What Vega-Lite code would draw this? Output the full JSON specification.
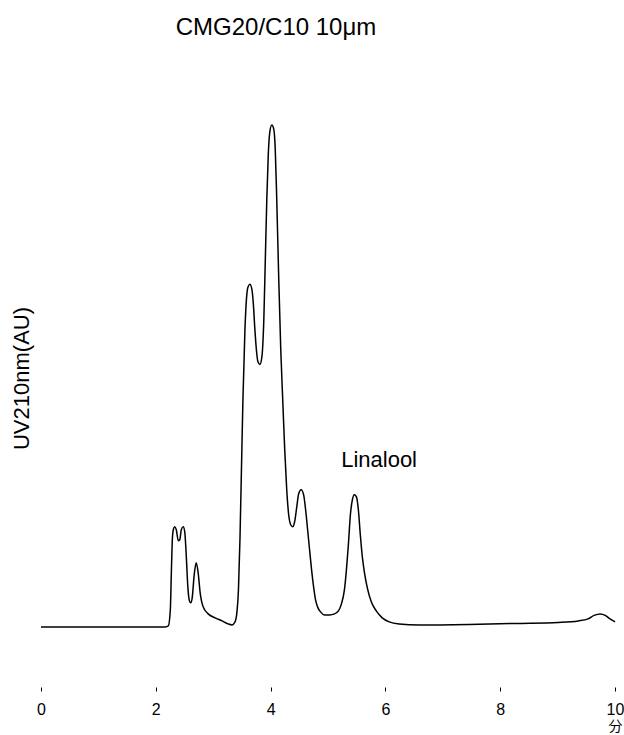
{
  "$schema": "https://vega.github.io/schema/vega-lite/v6.json",
  "width": 574,
  "height": 617,
  "autosize": {"type": "none"},
  "padding": {"left": 41, "top": 70, "right": 9, "bottom": 48},
  "background": "white",
  "config": {"view": {"stroke": null}, "font": "Liberation Sans"},
  "title": {"text": "CMG20/C10 10μm", "fontSize": 24, "fontWeight": "normal", "color": "black", "font": "Liberation Sans", "anchor": "middle", "dx": -52, "offset": 30},
  "datasets": {
    "trace": [
      {"t": 0, "v": 0},
      {"t": 2.166, "v": 0},
      {"t": 2.218, "v": 0.2},
      {"t": 2.253, "v": 3.4},
      {"t": 2.27, "v": 10.4},
      {"t": 2.288, "v": 17.4},
      {"t": 2.305, "v": 19.4},
      {"t": 2.331, "v": 20},
      {"t": 2.357, "v": 19.4},
      {"t": 2.392, "v": 17.2},
      {"t": 2.418, "v": 17.4},
      {"t": 2.444, "v": 19.4},
      {"t": 2.478, "v": 20},
      {"t": 2.504, "v": 19},
      {"t": 2.53, "v": 14.4},
      {"t": 2.556, "v": 8.4},
      {"t": 2.582, "v": 5.4},
      {"t": 2.608, "v": 4.8},
      {"t": 2.634, "v": 5.8},
      {"t": 2.669, "v": 10.4},
      {"t": 2.704, "v": 12.8},
      {"t": 2.738, "v": 10.8},
      {"t": 2.773, "v": 6.8},
      {"t": 2.825, "v": 4},
      {"t": 2.912, "v": 2.6},
      {"t": 3.033, "v": 1.8},
      {"t": 3.154, "v": 1.2},
      {"t": 3.258, "v": 0.6},
      {"t": 3.328, "v": 0.4},
      {"t": 3.38, "v": 1.0},
      {"t": 3.414, "v": 3},
      {"t": 3.44, "v": 7.4},
      {"t": 3.466, "v": 17.4},
      {"t": 3.492, "v": 31.4},
      {"t": 3.518, "v": 45.4},
      {"t": 3.553, "v": 59.4},
      {"t": 3.579, "v": 65.4},
      {"t": 3.605, "v": 67.8},
      {"t": 3.64, "v": 68.4},
      {"t": 3.674, "v": 67.4},
      {"t": 3.7, "v": 64.4},
      {"t": 3.726, "v": 59.4},
      {"t": 3.752, "v": 55.4},
      {"t": 3.778, "v": 53},
      {"t": 3.813, "v": 52.4},
      {"t": 3.847, "v": 53.8},
      {"t": 3.882, "v": 61.4},
      {"t": 3.908, "v": 73.4},
      {"t": 3.934, "v": 85.4},
      {"t": 3.96, "v": 94.4},
      {"t": 3.986, "v": 98.8},
      {"t": 4.021, "v": 100.2},
      {"t": 4.055, "v": 99.4},
      {"t": 4.081, "v": 95.4},
      {"t": 4.107, "v": 85.4},
      {"t": 4.142, "v": 69.4},
      {"t": 4.177, "v": 55.4},
      {"t": 4.211, "v": 45.4},
      {"t": 4.246, "v": 35.4},
      {"t": 4.281, "v": 27.4},
      {"t": 4.315, "v": 22.4},
      {"t": 4.35, "v": 20.4},
      {"t": 4.385, "v": 20},
      {"t": 4.419, "v": 21},
      {"t": 4.454, "v": 23.8},
      {"t": 4.489, "v": 26.6},
      {"t": 4.532, "v": 27.4},
      {"t": 4.575, "v": 26.4},
      {"t": 4.61, "v": 23.4},
      {"t": 4.645, "v": 19.4},
      {"t": 4.679, "v": 15.4},
      {"t": 4.714, "v": 11.4},
      {"t": 4.749, "v": 8},
      {"t": 4.783, "v": 5.4},
      {"t": 4.818, "v": 4},
      {"t": 4.87, "v": 3},
      {"t": 4.939, "v": 2.4},
      {"t": 5.026, "v": 2.4},
      {"t": 5.113, "v": 2.6},
      {"t": 5.182, "v": 3.2},
      {"t": 5.234, "v": 4.6},
      {"t": 5.286, "v": 7.4},
      {"t": 5.321, "v": 11.4},
      {"t": 5.355, "v": 16.4},
      {"t": 5.39, "v": 22.4},
      {"t": 5.425, "v": 25.4},
      {"t": 5.459, "v": 26.4},
      {"t": 5.494, "v": 26},
      {"t": 5.529, "v": 23.4},
      {"t": 5.563, "v": 18.4},
      {"t": 5.598, "v": 14},
      {"t": 5.633, "v": 11},
      {"t": 5.685, "v": 7.8},
      {"t": 5.754, "v": 5},
      {"t": 5.841, "v": 3.2},
      {"t": 5.945, "v": 1.8},
      {"t": 6.066, "v": 1},
      {"t": 6.239, "v": 0.6},
      {"t": 6.586, "v": 0.4},
      {"t": 7.452, "v": 0.5},
      {"t": 8.319, "v": 0.7},
      {"t": 9.012, "v": 0.9},
      {"t": 9.359, "v": 1.2},
      {"t": 9.532, "v": 1.6},
      {"t": 9.636, "v": 2.3},
      {"t": 9.745, "v": 2.6},
      {"t": 9.83, "v": 2.3},
      {"t": 9.913, "v": 1.6},
      {"t": 10.0, "v": 1.0}
    ],
    "labels": [
      {"t": 5.89, "v": 32, "label": "Linalool"}
    ]
  },
  "layer": [
    {
      "data": {"name": "trace"},
      "mark": {"type": "line", "color": "black", "strokeWidth": 1.5, "interpolate": "monotone"},
      "encoding": {
        "x": {
          "field": "t", "type": "quantitative",
          "scale": {"domain": [0, 10], "nice": false, "zero": false},
          "axis": {
            "values": [0, 2, 4, 6, 8, 10], "format": "d", "labelFlush": false, "labelAlign": "center",
            "grid": false, "domain": false,
            "ticks": true, "tickSize": 4, "tickColor": "black", "tickWidth": 1,
            "labelFontSize": 16, "labelColor": "black", "labelPadding": 10, "labelFont": "Liberation Sans",
            "title": "分", "titleFontSize": 14, "titleFontWeight": "normal", "titleColor": "black",
            "titleFont": "Noto Sans CJK JP",
            "titleX": 574, "titleY": 39, "titleAlign": "center", "titleBaseline": "middle", "titleAnchor": null
          }
        },
        "y": {
          "field": "v", "type": "quantitative",
          "scale": {"domain": [-12, 111.2], "nice": false, "zero": false},
          "axis": {
            "grid": false, "domain": false, "ticks": false, "labels": false,
            "title": "UV210nm(AU)", "titleFontSize": 22, "titleFontWeight": "normal", "titleColor": "black",
            "titleFont": "Liberation Sans",
            "titleAngle": -90, "titleX": -20, "titleY": 308, "titleAlign": "center", "titleBaseline": "middle"
          }
        }
      }
    },
    {
      "data": {"name": "labels"},
      "mark": {"type": "text", "fontSize": 22, "color": "black", "font": "Liberation Sans", "align": "center", "baseline": "alphabetic"},
      "encoding": {
        "x": {"field": "t", "type": "quantitative"},
        "y": {"field": "v", "type": "quantitative"},
        "text": {"field": "label"}
      }
    }
  ]
}
